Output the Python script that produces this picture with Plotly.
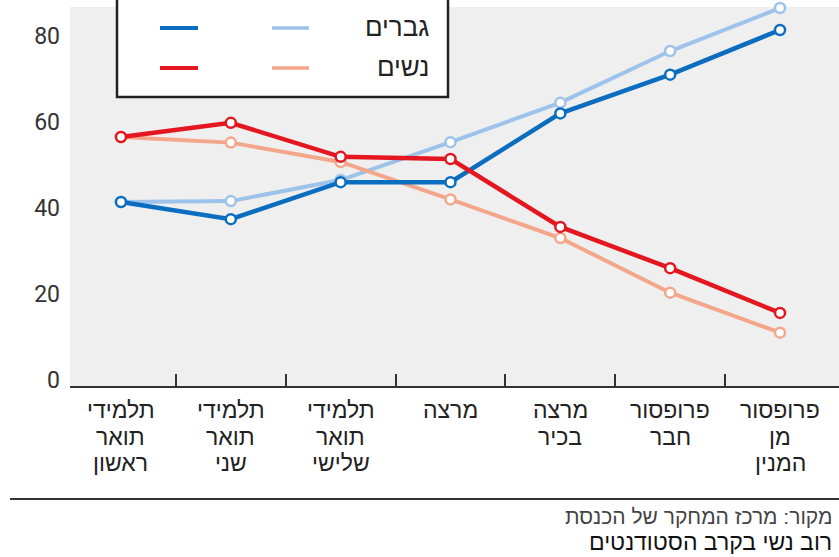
import plotly.graph_objects as go

categories = [
    "תלמידי<br>תואר<br>ראשון",
    "תלמידי<br>תואר<br>שני",
    "תלמידי<br>תואר<br>שלישי",
    "מרצה",
    "מרצה<br>בכיר",
    "פרופסור<br>חבר",
    "פרופסור<br>מן<br>המנין",
]
men_dark = [41.4, 37.4, 46.0, 46.0, 62.0, 71.0, 81.4]
men_light = [41.4, 41.6, 46.5, 55.3, 64.5, 76.5, 86.5]
women_dark = [56.5, 59.8, 51.9, 51.4, 35.6, 26.0, 15.6]
women_light = [56.5, 55.2, 50.7, 42.0, 33.0, 20.3, 11.0]
y_ticks = [0, 20, 40, 60, 80]
legend_rows = ["גברים", "נשים"]
source_text = "מקור: מרכז המחקר של הכנסת"
title_text = "רוב נשי בקרב הסטודנטים"

C_BLUE = "#0b6dc0"
C_LBLUE = "#9dc3ea"
C_RED = "#e4161f"
C_SALMON = "#f4a68b"

HEB = "Liberation Sans, Arial, sans-serif"
NUM = "Roboto, DejaVu Sans, sans-serif"

x = list(range(len(categories)))

fig = go.Figure()

def add(series, color, width):
    fig.add_trace(go.Scatter(
        x=x, y=series, mode="lines+markers",
        line=dict(color=color, width=width),
        marker=dict(symbol="circle", size=10, color="white",
                    line=dict(color=color, width=2.5)),
        showlegend=False, hoverinfo="skip", cliponaxis=False,
    ))

add(men_light, C_LBLUE, 4)
add(women_light, C_SALMON, 4)
add(men_dark, C_BLUE, 4.5)
add(women_dark, C_RED, 4.5)

W, H = 839, 557
L, R, T, B = 70, 0, 7, 171
pw = W - L - R
ph = H - T - B

def px2paper_x(px):
    return (px - L) / pw

def px2paper_y(py):
    return 1 - (py - T) / ph

shapes = []
annotations = []

# category labels, one annotation per line
row_centers = [410, 436.5, 463]
for xi, cat in zip(x, categories):
    for li, line in enumerate(cat.split("<br>")):
        annotations.append(dict(text=line, xref="x", yref="paper",
                                x=xi, y=px2paper_y(row_centers[li]),
                                xanchor="center", yanchor="middle", showarrow=False,
                                font=dict(family=HEB, size=23, color="#222")))

# legend box
shapes.append(dict(type="rect", xref="paper", yref="paper",
                   x0=px2paper_x(117), x1=px2paper_x(448),
                   y0=px2paper_y(97), y1=px2paper_y(-20),
                   line=dict(color="#222", width=2.5), fillcolor="white",
                   layer="above"))
row_y = [27, 67]
row_cols = [(C_BLUE, C_LBLUE), (C_RED, C_SALMON)]
for lab, ry, (cd, cl) in zip(legend_rows, row_y, row_cols):
    shapes.append(dict(type="line", xref="paper", yref="paper",
                       x0=px2paper_x(160), x1=px2paper_x(198),
                       y0=px2paper_y(ry + 1), y1=px2paper_y(ry + 1),
                       line=dict(color=cd, width=4), layer="above"))
    shapes.append(dict(type="line", xref="paper", yref="paper",
                       x0=px2paper_x(272), x1=px2paper_x(309),
                       y0=px2paper_y(ry + 1), y1=px2paper_y(ry + 1),
                       line=dict(color=cl, width=3.5), layer="above"))
    annotations.append(dict(text=lab, xref="paper", yref="paper",
                            x=px2paper_x(431), y=px2paper_y(ry),
                            xanchor="right", yanchor="middle", showarrow=False,
                            font=dict(family=HEB, size=26, color="#222")))

# bottom separator line
shapes.append(dict(type="line", xref="paper", yref="paper",
                   x0=px2paper_x(10), x1=px2paper_x(839),
                   y0=px2paper_y(499), y1=px2paper_y(499),
                   line=dict(color="#333", width=2)))

annotations.append(dict(text=source_text, xref="paper", yref="paper",
                        x=px2paper_x(834), y=px2paper_y(516),
                        xanchor="right", yanchor="middle", showarrow=False,
                        font=dict(family=HEB, size=21, color="#444")))
annotations.append(dict(text=title_text, xref="paper", yref="paper",
                        x=px2paper_x(834), y=px2paper_y(542),
                        xanchor="right", yanchor="middle", showarrow=False,
                        font=dict(family=HEB, size=23, color="#111")))

fig.update_layout(
    width=W, height=H,
    margin=dict(l=L, r=R, t=T, b=B, pad=0),
    paper_bgcolor="white",
    plot_bgcolor="#efefef",
    shapes=shapes,
    annotations=annotations,
    xaxis=dict(
        range=[-0.464, 6.537],
        tickmode="array", tickvals=x,
        showticklabels=False,
        ticks="", showgrid=False, zeroline=False,
        showline=True, linecolor="#333", linewidth=2,
        minor=dict(tickmode="array", tickvals=[i + 0.5 for i in x[:-1]],
                   ticks="inside", ticklen=12, tickwidth=1.5, tickcolor="#333",
                   showgrid=False),
        fixedrange=True,
    ),
    yaxis=dict(
        range=[-1.4, 86.74],
        tickmode="array", tickvals=y_ticks,
        showgrid=False, zeroline=False, showline=False,
        ticks="", ticklabelstandoff=9,
        tickfont=dict(family=NUM, size=23, color="#333"),
        fixedrange=True,
    ),
)

fig.write_html("out.html", config={"displayModeBar": False},
               post_script="document.body.style.margin='0';")
